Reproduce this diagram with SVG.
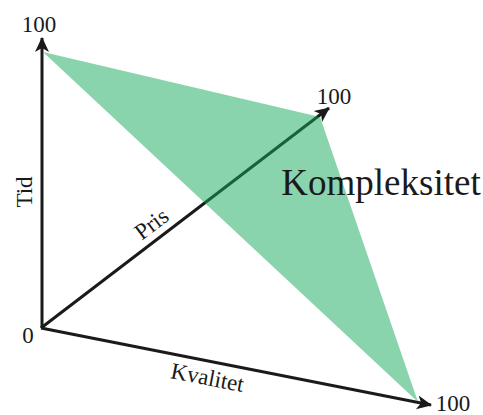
<svg xmlns="http://www.w3.org/2000/svg" width="483" height="415" viewBox="0 0 483 415">
<style>
.ax{stroke:#1a1a1a;stroke-width:3;fill:none;marker-end:url(#ah)}
.t{font-family:"Liberation Serif","Times New Roman",serif;fill:#1a1a1a}
.n{font-size:23px}
.l{font-size:23px}
</style>
<defs>
<marker id="ah" markerUnits="userSpaceOnUse" markerWidth="20" markerHeight="20" refX="14" refY="7" orient="auto" viewBox="0 0 20 14">
<path d="M0,0 L15,7 L0,14 L4,7 Z" fill="#1a1a1a"/>
</marker>
</defs>
<g id="connectors">
<line class="ax" x1="42" y1="328" x2="42" y2="38"/>
<line class="ax" x1="41" y1="328" x2="329" y2="108"/>
<line class="ax" x1="41" y1="328" x2="431" y2="405"/>
</g>
<g id="triangle">
<polygon points="43,52 320,117 418,402" fill="rgb(20,170,90)" fill-opacity="0.5"/>
</g>
<g id="labels">
<text class="t n" x="39" y="32" text-anchor="middle">100</text>
<text class="t n" x="334" y="104" text-anchor="middle">100</text>
<text class="t n" x="453" y="411" text-anchor="middle">100</text>
<text class="t n" x="28" y="343" text-anchor="middle">0</text>
<text class="t" x="381" y="195" text-anchor="middle" font-size="37">Kompleksitet</text>
<text class="t l" transform="translate(32,192) rotate(-90)" text-anchor="middle">Tid</text>
<text class="t l" transform="translate(156,230) rotate(-37)" text-anchor="middle">Pris</text>
<text class="t l" transform="translate(206,385) rotate(11)" text-anchor="middle">Kvalitet</text>
</g>
</svg>
